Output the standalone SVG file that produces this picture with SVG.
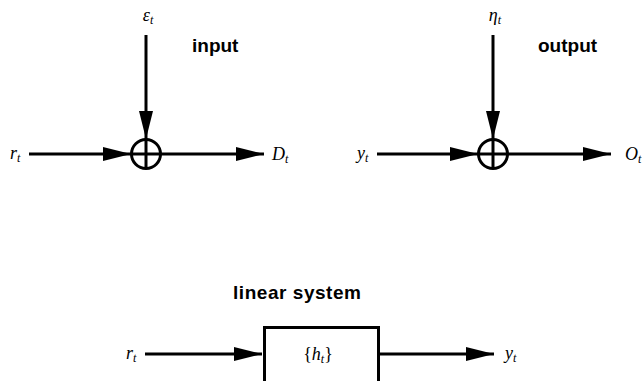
<svg xmlns="http://www.w3.org/2000/svg" width="642" height="381" viewBox="0 0 642 381">
<defs>
<marker id="ah" markerWidth="28" markerHeight="16" refX="28" refY="8" orient="auto" markerUnits="userSpaceOnUse">
<path d="M0,1 L28,8 L0,15 Z" fill="#000"/>
</marker>
<style>
.ln{stroke:#000;stroke-width:3;fill:none}
.sum{stroke:#000;stroke-width:3;fill:#fff}
.math{font-family:"Liberation Serif",serif;font-style:italic;font-size:18px;fill:#000}
.sub{font-size:12px}
.up{font-style:normal}
.lbl{font-family:"Liberation Sans",Arial,sans-serif;font-weight:bold;font-size:19px;fill:#000}
</style>
</defs>
<rect width="642" height="381" fill="#fff"/>
<g id="connectors">
<line class="ln" x1="146" y1="35" x2="146" y2="139" marker-end="url(#ah)"/>
<line class="ln" x1="29" y1="154" x2="131" y2="154" marker-end="url(#ah)"/>
<line class="ln" x1="161" y1="154" x2="264" y2="154" marker-end="url(#ah)"/>
<line class="ln" x1="493" y1="35" x2="493" y2="139" marker-end="url(#ah)"/>
<line class="ln" x1="377" y1="154" x2="478" y2="154" marker-end="url(#ah)"/>
<line class="ln" x1="508" y1="154" x2="611" y2="154" marker-end="url(#ah)"/>
<line class="ln" x1="145" y1="354" x2="262" y2="354" marker-end="url(#ah)"/>
<line class="ln" x1="379" y1="354" x2="494" y2="354" marker-end="url(#ah)"/>
</g>
<g id="sum-input">
<circle class="sum" cx="146" cy="154" r="14.5"/>
<line class="ln" x1="131.5" y1="154" x2="160.5" y2="154"/>
<line class="ln" x1="146" y1="139.5" x2="146" y2="168.5"/>
</g>
<g id="sum-output">
<circle class="sum" cx="493" cy="154" r="14.5"/>
<line class="ln" x1="478.5" y1="154" x2="507.5" y2="154"/>
<line class="ln" x1="493" y1="139.5" x2="493" y2="168.5"/>
</g>
<g id="system">
<rect class="ln" x="264.5" y="327.5" width="114" height="60"/>
<text class="math" x="318" y="360" text-anchor="middle"><tspan class="up">{</tspan>h<tspan class="sub" dy="3">t</tspan><tspan class="up" dy="-3">}</tspan></text>
</g>
<g id="labels">
<text class="math" x="148" y="21" text-anchor="middle">ε<tspan class="sub" dy="3">t</tspan></text>
<text class="lbl" x="192" y="52">input</text>
<text class="math" x="10" y="159">r<tspan class="sub" dy="3">t</tspan></text>
<text class="math" x="272" y="160">D<tspan class="sub" dy="3">t</tspan></text>
<text class="math" x="495" y="21" text-anchor="middle">η<tspan class="sub" dy="3">t</tspan></text>
<text class="lbl" x="538" y="52">output</text>
<text class="math" x="357" y="159">y<tspan class="sub" dy="3">t</tspan></text>
<text class="math" x="625" y="160">O<tspan class="sub" dy="3">t</tspan></text>
<text class="lbl" x="233" y="299" textLength="128">linear system</text>
<text class="math" x="126" y="359">r<tspan class="sub" dy="3">t</tspan></text>
<text class="math" x="505" y="359">y<tspan class="sub" dy="3">t</tspan></text>
</g>
</svg>
